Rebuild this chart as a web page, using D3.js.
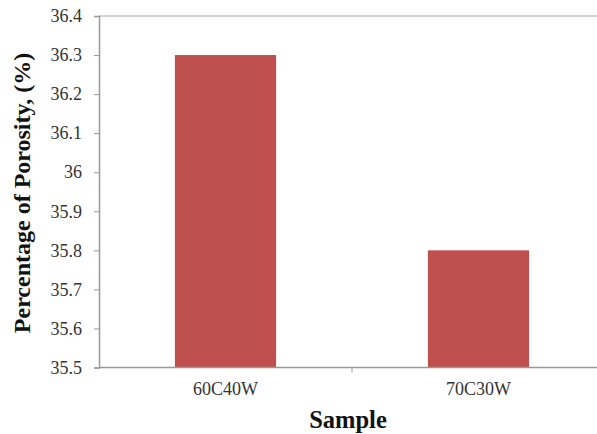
<!DOCTYPE html>
<html>
  <head>
    <meta charset="utf-8" />
    <style>
      body { margin: 0; background: #fff; }
      text { font-family: "Liberation Serif", "Times New Roman", serif; }
    </style>
  </head>
  <body>
    <div id="plot"></div>
    <script src="https://d3js.org/d3.v7.min.js"></script>
    <script>
      // data
      const samples = ["60C40W", "70C30W"];
      const porosity = [36.3, 35.8];
      const yTicks = [35.5, 35.6, 35.7, 35.8, 35.9, 36, 36.1, 36.2, 36.3, 36.4];

      const width = 597, height = 434;
      const margin = { left: 99, right: 605, top: 16, bottom: 367.5 };
      const serif = "'Liberation Serif', 'Times New Roman', serif";

      const svg = d3.select("#plot").append("svg")
        .attr("width", width)
        .attr("height", height);

      const x = d3.scaleBand()
        .domain(samples)
        .range([margin.left, margin.right])
        .paddingInner(0.6)
        .paddingOuter(0.3);

      const y = d3.scaleLinear()
        .domain([35.5, 36.4])
        .range([margin.bottom, margin.top]);

      // top border of plot area
      svg.append("line")
        .attr("x1", margin.left).attr("x2", width)
        .attr("y1", y(36.4)).attr("y2", y(36.4))
        .attr("stroke", "#c4c4c4").attr("stroke-width", 1.5);

      // bars
      svg.append("g")
        .selectAll("rect")
        .data(samples)
        .join("rect")
        .attr("x", d => x(d))
        .attr("width", x.bandwidth())
        .attr("y", (d, i) => y(porosity[i]))
        .attr("height", (d, i) => y(35.5) - y(porosity[i]))
        .attr("fill", "#c0504d");

      // y axis
      const yAxis = svg.append("g")
        .attr("transform", `translate(${margin.left},0)`)
        .call(d3.axisLeft(y).tickValues(yTicks).tickFormat(d3.format("")).tickSize(5).tickPadding(12));
      yAxis.select(".domain").attr("stroke", "#999").attr("stroke-width", 1.5);
      yAxis.selectAll(".tick line").attr("stroke", "#999");
      yAxis.selectAll(".tick text")
        .style("font-family", serif)
        .style("font-size", "18px")
        .attr("fill", "#333");

      // x axis: ticks between categories
      const xAxis = svg.append("g")
        .attr("transform", `translate(0,${margin.bottom})`);
      xAxis.append("line")
        .attr("x1", margin.left).attr("x2", width)
        .attr("stroke", "#999").attr("stroke-width", 1.5);
      const step = x.step();
      xAxis.selectAll(".sep")
        .data(samples.slice(1))
        .join("line")
        .attr("class", "sep")
        .attr("x1", d => x(d) - (step - x.bandwidth()) / 2)
        .attr("x2", d => x(d) - (step - x.bandwidth()) / 2)
        .attr("y1", 0).attr("y2", 5)
        .attr("stroke", "#999");
      xAxis.selectAll(".lbl")
        .data(samples)
        .join("text")
        .attr("class", "lbl")
        .attr("x", d => x(d) + x.bandwidth() / 2)
        .attr("y", 27.5)
        .attr("text-anchor", "middle")
        .style("font-family", serif)
        .style("font-size", "18px")
        .attr("fill", "#333")
        .text(d => d);

      // axis titles
      svg.append("text")
        .attr("x", 348)
        .attr("y", 428)
        .attr("text-anchor", "middle")
        .style("font-family", serif)
        .attr("font-size", 24.5)
        .attr("font-weight", "bold")
        .attr("fill", "#111")
        .text("Sample");

      svg.append("text")
        .attr("transform", "translate(30,193) rotate(-90)")
        .attr("text-anchor", "middle")
        .style("font-family", serif)
        .attr("font-size", 24)
        .attr("font-weight", "bold")
        .attr("fill", "#111")
        .text("Percentage of Porosity, (%)");
    </script>
  </body>
</html>
